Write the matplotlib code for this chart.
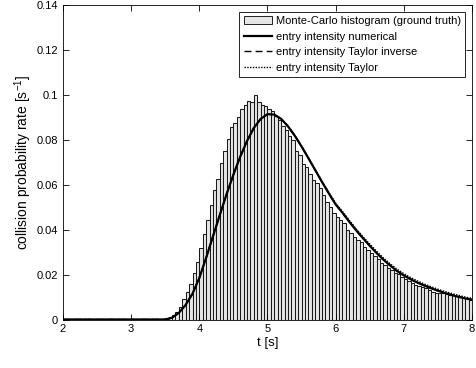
import matplotlib
matplotlib.use("Agg")
import matplotlib.pyplot as plt
from matplotlib.patches import Patch
from matplotlib.lines import Line2D
import numpy as np

plt.rcParams['font.family'] = ['Liberation Sans', 'DejaVu Sans']
plt.rcParams['mathtext.default'] = 'regular'

# histogram: 120 bins of width 0.05 from t = 2 to t = 8
bin_start = 2.0
bin_width = 0.05
hist_zero = [0.0] * 29   # 2.00 .. 3.45
hist_rise = [0.0003, 0.0006, 0.0012, 0.002, 0.0032, 0.0057, 0.009, 0.0124, 0.016, 0.0208,
             0.0256, 0.0317, 0.038, 0.0443, 0.051, 0.0577, 0.0627, 0.0698, 0.075, 0.0805, 0.0857]
hist_peak = [0.0876, 0.0900, 0.0938, 0.0956, 0.0971, 0.0968, 0.0998, 0.0968, 0.0956, 0.0949,
             0.0935, 0.0928, 0.0905, 0.0888, 0.0862, 0.0842, 0.0816, 0.0800, 0.0752, 0.0732]
hist_fall = [0.0691, 0.068, 0.0649, 0.0621, 0.0608, 0.0584, 0.0552, 0.0525, 0.05, 0.0473,
             0.0458, 0.0443, 0.0431, 0.0398, 0.0384, 0.0369, 0.0354, 0.0346, 0.0324, 0.0309]
hist_tail = [0.0295, 0.0283, 0.0268, 0.0253, 0.0243, 0.0228, 0.022, 0.0208, 0.0203, 0.019,
             0.0179, 0.0171, 0.0161, 0.0154, 0.0149, 0.0146, 0.0139, 0.0131, 0.0124, 0.0119,
             0.0117, 0.0119, 0.0114, 0.0109, 0.0109, 0.0105, 0.0101, 0.0097, 0.0097, 0.0086]
hist_vals = hist_zero + hist_rise + hist_peak + hist_fall + hist_tail

# entry intensity curves
t_curve = [2.0, 3.5, 3.6, 3.7, 3.8, 3.9, 4.0, 4.1, 4.2, 4.3, 4.4, 4.5, 4.6, 4.7, 4.8, 4.9,
           5.0, 5.1, 5.2, 5.3, 5.4, 5.5, 5.6, 5.7, 5.8, 5.9, 6.0, 6.1, 6.2, 6.3, 6.4, 6.5,
           6.6, 6.7, 6.8, 6.9, 7.0, 7.1, 7.2, 7.3, 7.4, 7.5, 7.6, 7.7, 7.8, 7.9, 8.0]
numerical = [0.0, 0.0, 0.0008, 0.003, 0.0065, 0.0115, 0.0185, 0.0275, 0.037, 0.0465, 0.0558,
             0.0645, 0.0725, 0.0795, 0.0853, 0.0893, 0.0914, 0.0912, 0.0893, 0.0860, 0.0818,
             0.0770, 0.0718, 0.0665, 0.0612, 0.0561, 0.0512, 0.0475, 0.0435, 0.0397, 0.0362,
             0.0328, 0.0296, 0.0266, 0.0240, 0.0216, 0.0196, 0.0179, 0.0164, 0.0151, 0.0139,
             0.0128, 0.0118, 0.0109, 0.0101, 0.0094, 0.0088]
taylor_inv = [0.0, 0.0, 0.0008, 0.003, 0.0065, 0.0115, 0.0185, 0.0275, 0.037, 0.0465, 0.0558,
              0.0645, 0.0725, 0.0795, 0.0853, 0.0893, 0.0914, 0.0912, 0.0893, 0.0860, 0.0818,
              0.0770, 0.0718, 0.0665, 0.0612, 0.0561, 0.0512, 0.0475, 0.0435, 0.0397, 0.0362,
              0.0328, 0.0296, 0.0267, 0.0241, 0.0217, 0.0197, 0.0180, 0.0165, 0.0152, 0.0140,
              0.0129, 0.0119, 0.0110, 0.0102, 0.0095, 0.0089]
taylor = [0.0, 0.0, 0.0008, 0.003, 0.0065, 0.0115, 0.0185, 0.0275, 0.037, 0.0465, 0.0558,
          0.0645, 0.0725, 0.0795, 0.0853, 0.0893, 0.0914, 0.0912, 0.0893, 0.0861, 0.0820,
          0.0772, 0.0721, 0.0668, 0.0616, 0.0566, 0.0518, 0.0481, 0.0442, 0.0404, 0.0369,
          0.0336, 0.0304, 0.0274, 0.0248, 0.0224, 0.0204, 0.0187, 0.0172, 0.0158, 0.0146,
          0.0135, 0.0125, 0.0116, 0.0108, 0.0100, 0.0094]

fig = plt.figure(figsize=(4.76, 3.68), dpi=100)
ax = fig.add_axes([63 / 476, 48.5 / 368, 409 / 476, 314.5 / 368])

edges = bin_start + bin_width * np.arange(len(hist_vals))
ax.bar(edges, hist_vals, width=bin_width, align='edge', color='#e6e6e6',
       edgecolor='#1a1a1a', linewidth=0.75, zorder=1)

ax.plot(t_curve, numerical, color='black', linewidth=1.6, zorder=3)
ax.plot(t_curve, taylor_inv, color='black', linewidth=1.0, linestyle=(0, (5, 3)), zorder=4)
ax.plot(t_curve, taylor, color='black', linewidth=1.0, linestyle=(0, (1, 1)), zorder=5)

ax.set_xlim(2, 8)
ax.set_ylim(0, 0.14)
ax.set_xticks(range(2, 9))
ax.set_yticks([0, 0.02, 0.04, 0.06, 0.08, 0.1, 0.12, 0.14])
ax.set_yticklabels(['0', '0.02', '0.04', '0.06', '0.08', '0.1', '0.12', '0.14'])
ax.tick_params(direction='in', top=True, right=True, labelsize=8, length=4, width=0.6)
for s in ax.spines.values():
    s.set_linewidth(0.6)

ax.set_xlabel('t [s]', fontsize=9.5, labelpad=2)
ax.set_ylabel('collision probability rate [s$^{-1}$]', fontsize=10, labelpad=2)

handles = [Patch(facecolor='#e6e6e6', edgecolor='black', linewidth=0.6),
           Line2D([], [], color='black', linewidth=1.6),
           Line2D([], [], color='black', linewidth=1.0, linestyle=(0, (5, 3))),
           Line2D([], [], color='black', linewidth=1.0, linestyle=(0, (1, 1)))]
labels = ['Monte-Carlo histogram (ground truth)', 'entry intensity numerical',
          'entry intensity Taylor inverse', 'entry intensity Taylor']
leg = ax.legend(handles, labels, loc='upper right', fontsize=8, fancybox=False,
                framealpha=1, edgecolor='black', borderpad=0.4, labelspacing=0.5,
                handlelength=2.6, handletextpad=0.3, borderaxespad=0.6)
leg.get_frame().set_linewidth(0.6)

fig.savefig('out.png', dpi=100)
